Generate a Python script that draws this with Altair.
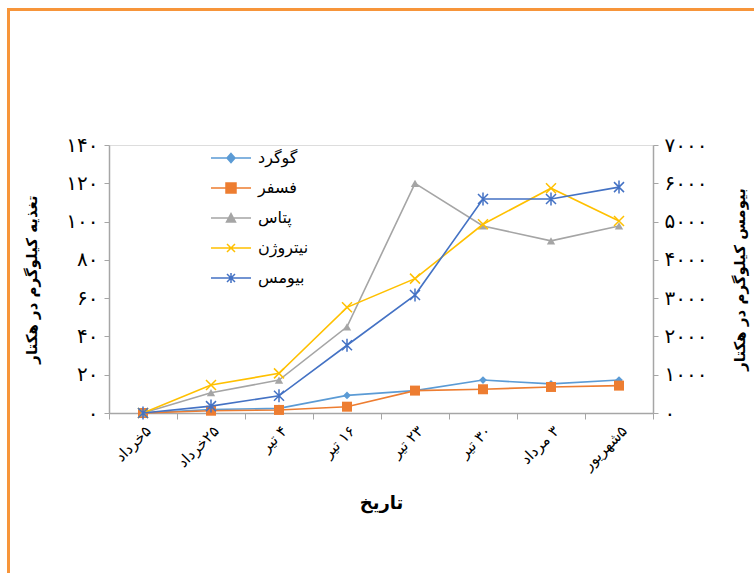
import altair as alt
import pandas as pd

# ---------------- data ----------------
dates = ["۵خرداد", "۲۵خرداد", "۴ تیر", "۱۶ تیر", "۲۳ تیر", "۳۰ تیر", "۳ مرداد", "۵شهریور"]
series_names = ["گوگرد", "فسفر", "پتاس", "نیتروژن", "بیومس"]
sulfur = [0, 1.8, 2.4, 9.2, 11.7, 17.2, 15.2, 17.2]
phosphorus = [0, 1.2, 1.6, 3.3, 11.7, 12.4, 13.6, 14.3]
potash = [0, 10.6, 17.2, 45, 120, 97.7, 89.9, 97.7]
nitrogen = [0, 14.6, 20.7, 55.2, 70.2, 98.6, 117.4, 100.3]
biomass = [0, 180, 450, 1770, 3080, 5590, 5590, 5900]
left_ticks = [0, 20, 40, 60, 80, 100, 120, 140]
right_ticks = [0, 1000, 2000, 3000, 4000, 5000, 6000, 7000]

series_values = [sulfur, phosphorus, potash, nitrogen, biomass]
colors = ["#5B9BD5", "#ED7D31", "#A5A5A5", "#FFC000", "#4472C4"]

rows = []
for name, vals in zip(series_names, series_values):
    for d, v in zip(dates, vals):
        rows.append({"date": d, "series": name, "value": v})
df = pd.DataFrame(rows)

FONT = "DejaVu Sans"
AX = "#A6A6A6"
fa_digits = "۰۱۲۳۴۵۶۷۸۹"


def fa_expr(base):
    e = base
    for i, d in enumerate(fa_digits):
        e = f"replace({e}, regexp('{i}', 'g'), '{d}')"
    return e


# marker shapes for chart points
X_PATH = "M-1,-1L1,1M-1,1L1,-1"
STAR_PATH = "M-1,-1L1,1M-1,1L1,-1M0,-1.3L0,1.3"
marker = {
    "گوگرد": dict(shape="diamond", filled=True, size=60),
    "فسفر": dict(shape="square", filled=True, size=100),
    "پتاس": dict(shape="triangle-up", filled=True, size=70),
    "نیتروژن": dict(shape=X_PATH, filled=False, size=100),
    "بیومس": dict(shape=STAR_PATH, filled=False, size=100),
}
# legend symbols: short line + marker (path unit = sqrt(symbolSize)/2 px)
L = "M-2,0L2,0"
legend_paths = [
    L + "M0,-0.45L0.4,0L0,0.45L-0.4,0Z",
    L + "M-0.5,-0.5L0.5,-0.5L0.5,0.5L-0.5,0.5Z",
    L + "M0,-0.45L0.45,0.4L-0.45,0.4Z",
    L + "M-0.4,-0.4L0.4,0.4M-0.4,0.4L0.4,-0.4",
    L + "M-0.4,-0.4L0.4,0.4M-0.4,0.4L0.4,-0.4M0,-0.5L0,0.5",
]

x_enc = alt.X(
    "date:N",
    sort=dates,
    scale=alt.Scale(type="band", domain=dates, paddingInner=0, paddingOuter=0),
    axis=alt.Axis(
        title="تاریخ",
        labelAngle=-45,
        labelExpr="'\u202b' + datum.label + '\u202c'",
        labelFontSize=15,
        labelPadding=4,
        labelColor="#000000",
        tickBand="extent",
        tickSize=6,
        tickColor=AX,
        domainColor=AX,
        domainWidth=1.5,
        titleFontSize=18,
        titleFontWeight="bold",
        titleY=90,
        titleBaseline="middle",
        grid=False,
    ),
)

y_left = alt.Y(
    "value:Q",
    scale=alt.Scale(domain=[0, 140], nice=False),
    axis=alt.Axis(
        orient="left",
        values=left_ticks,
        labelExpr=fa_expr("format(datum.value, 'd')"),
        labelFontSize=20,
        labelColor="#000000",
        labelPadding=6,
        tickSize=5,
        tickColor=AX,
        domainColor=AX,
        domainWidth=1.5,
        title="تغذیه کیلوگرم در هکتار",
        titleAngle=270,
        titleX=-78,
        titleY=134,
        titleAlign="center",
        titleBaseline="middle",
        titleFontSize=15,
        titleFontWeight="bold",
        grid=False,
    ),
)

y_right = alt.Y(
    "value:Q",
    scale=alt.Scale(domain=[0, 7000], nice=False),
    axis=alt.Axis(
        orient="right",
        values=right_ticks,
        labelExpr=fa_expr("format(datum.value, 'd')"),
        labelFontSize=20,
        labelColor="#000000",
        labelPadding=6,
        tickSize=5,
        tickColor=AX,
        domainColor=AX,
        domainWidth=1.5,
        title="بیومس کیلوگرم در هکتار",
        titleAngle=270,
        titleX=86,
        titleY=134,
        titleAlign="center",
        titleBaseline="middle",
        titleFontSize=15,
        titleFontWeight="bold",
        grid=False,
    ),
)

base = alt.Chart(df)


def series_layers(name, color, y_enc):
    m = marker[name]
    src = base.transform_filter(alt.datum.series == name)
    line = src.mark_line(color=color, strokeWidth=1.6).encode(x=x_enc, y=y_enc)
    pt = src.mark_point(
        shape=m["shape"], filled=m["filled"], size=m["size"], color=color,
        opacity=1, strokeWidth=1.5,
    ).encode(x=x_enc, y=y_enc)
    return [line, pt]


left_layers = []
for name, color in zip(series_names[:4], colors[:4]):
    left_layers += series_layers(name, color, y_left)

# legend (library legend from fill/stroke/shape scales)
sc = dict(domain=series_names, range=colors)
legend_layer = base.transform_filter("false").mark_point(
    opacity=1, filled=True, strokeWidth=1.5
).encode(
    x=x_enc,
    y=y_left,
    fill=alt.Fill("series:N", scale=alt.Scale(**sc), title=None,
                  legend=alt.Legend(orient="none", legendX=111, legendY=2,
                                    symbolSize=400, labelOffset=16,
                                    rowPadding=11, labelFontSize=16,
                                    labelColor="#000000", labelFont=FONT,
                                    symbolStrokeWidth=1.5, title=None)),
    stroke=alt.Stroke("series:N", scale=alt.Scale(**sc), title=None),
    shape=alt.Shape("series:N", scale=alt.Scale(domain=series_names, range=legend_paths), title=None),
)

frame = alt.Chart(pd.DataFrame({"f": [0]})).mark_rect(
    fill="transparent", stroke="#F7953A", strokeWidth=3
).encode(
    x=alt.value(-100.5), x2=alt.value(700), y=alt.value(-135.5), y2=alt.value(480)
)

left = alt.layer(frame, *left_layers, legend_layer)
right = alt.layer(*series_layers("بیومس", colors[4], y_right))

chart = alt.layer(left, right).resolve_scale(y="independent").properties(
    width=544,
    height=268,
    padding={"left": 109, "top": 145, "right": 101, "bottom": 160},
    autosize=alt.AutoSizeParams(type="none"),
    background="white",
).configure_view(stroke=None).configure(font=FONT)

chart.save("out.html", embed_options={"renderer": "svg", "actions": False})
